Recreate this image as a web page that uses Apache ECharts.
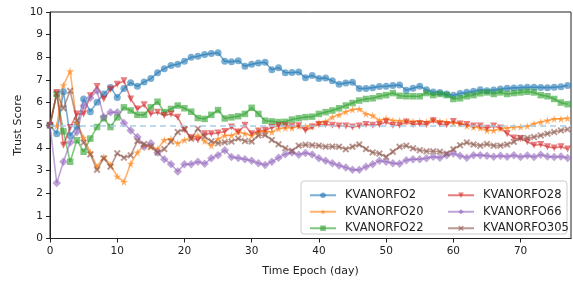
<!DOCTYPE html>
<html>
<head>
<meta charset="utf-8">
<script src="https://cdn.jsdelivr.net/npm/echarts@6/dist/echarts.min.js"></script>
<style>
html, body { margin: 0; padding: 0; background: #fff; }
#main { width: 573px; height: 282px; }
</style>
</head>
<body>
<div id="main"></div>
<script>
// time epochs (day)
var days = [0,1,2,3,4,5,6,7,8,9,10,11,12,13,14,15,16,17,18,19,20,21,22,23,24,25,26,27,28,29,
  30,31,32,33,34,35,36,37,38,39,40,41,42,43,44,45,46,47,48,49,50,51,52,53,54,55,56,57,58,59,
  60,61,62,63,64,65,66,67,68,69,70,71,72,73,74,75,76,77];

var kv2 = [5.0,4.63,6.48,4.54,4.95,6.16,5.6,6.02,6.38,6.67,6.23,6.62,6.88,6.72,6.91,7.06,7.32,7.5,7.64,7.69,
  7.83,8.0,8.05,8.12,8.17,8.2,7.83,7.8,7.85,7.61,7.69,7.75,7.78,7.45,7.54,7.32,7.33,7.35,7.1,7.2,
  7.06,7.09,6.96,6.81,6.87,6.9,6.62,6.62,6.66,6.71,6.72,6.75,6.78,6.55,6.63,6.72,6.57,6.47,6.45,6.38,
  6.32,6.4,6.46,6.5,6.57,6.52,6.56,6.6,6.63,6.65,6.66,6.68,6.68,6.67,6.66,6.68,6.7,6.76];
var kv20 = [5.0,4.97,6.77,7.39,5.1,4.45,3.8,3.17,3.6,3.25,2.74,2.5,3.3,3.8,4.1,4.05,3.95,4.35,4.4,4.2,
  4.35,4.45,4.55,4.3,4.1,4.4,4.55,4.55,4.7,4.63,4.55,4.7,4.73,4.7,4.85,4.88,4.88,4.96,4.96,4.95,
  5.11,5.17,5.36,5.46,5.6,5.69,5.72,5.5,5.43,5.21,5.3,5.21,5.2,5.17,5.17,5.17,5.14,5.25,5.17,5.15,
  5.11,5.07,4.97,4.92,4.88,4.77,4.77,4.85,4.88,4.92,4.93,4.96,5.07,5.14,5.21,5.28,5.28,5.31];
var kv22 = [5.0,6.38,4.73,3.39,4.34,3.83,4.41,4.92,5.31,4.92,5.35,5.79,5.65,5.46,5.46,5.79,6.04,5.58,5.72,5.87,
  5.75,5.6,5.32,5.28,5.46,5.67,5.3,5.35,5.4,5.5,5.77,5.5,5.2,5.17,5.14,5.15,5.25,5.31,5.36,5.38,
  5.5,5.58,5.65,5.75,5.87,5.98,6.09,6.16,6.19,6.28,6.33,6.42,6.3,6.28,6.28,6.28,6.42,6.33,6.38,6.33,
  6.16,6.19,6.28,6.33,6.41,6.45,6.38,6.45,6.38,6.42,6.45,6.48,6.45,6.33,6.28,6.16,6.0,5.93];
var kv28 = [5.0,6.45,4.12,4.9,5.5,5.5,6.3,6.71,6.16,6.59,6.81,6.96,6.16,5.72,5.9,5.5,5.57,5.43,5.5,5.35,
  4.8,4.45,4.35,4.63,4.63,4.66,4.72,4.92,4.7,5.0,4.63,4.75,4.78,4.9,4.98,4.98,4.96,4.98,4.77,4.92,
  5.03,5.03,5.0,4.97,4.97,4.92,4.97,5.03,5.0,5.03,5.14,5.0,5.0,5.14,5.03,5.07,5.03,5.2,5.05,5.02,
  5.17,5.05,5.03,4.97,4.97,4.87,4.97,4.88,4.63,4.44,4.41,4.27,4.12,4.15,4.05,4.0,4.05,3.95];
var kv66 = [5.0,2.45,3.39,4.24,4.7,5.86,6.2,6.52,5.36,5.57,5.57,5.1,4.77,4.48,4.05,4.2,3.8,3.5,3.28,2.96,
  3.28,3.28,3.39,3.3,3.54,3.68,3.9,3.6,3.55,3.5,3.43,3.32,3.25,3.39,3.57,3.72,3.8,3.7,3.78,3.71,
  3.54,3.43,3.32,3.22,3.13,3.03,3.03,3.17,3.28,3.43,3.39,3.32,3.3,3.46,3.5,3.5,3.54,3.61,3.57,3.68,
  3.75,3.65,3.57,3.68,3.68,3.65,3.61,3.65,3.61,3.68,3.6,3.66,3.6,3.7,3.62,3.6,3.62,3.55];
var kv305 = [5.0,6.4,5.75,6.52,5.21,4.24,3.71,3.03,3.54,3.17,3.76,3.57,3.67,4.3,4.17,4.05,3.8,3.95,4.28,4.7,
  4.83,4.41,4.85,4.5,4.29,4.2,4.25,4.28,4.41,4.3,4.28,4.55,4.57,4.35,4.16,3.98,3.87,4.1,4.14,4.12,
  4.1,4.05,4.06,4.05,3.94,4.05,4.15,3.95,3.8,3.75,3.6,3.83,4.05,4.1,3.98,3.9,3.85,3.85,3.83,3.75,
  3.94,4.12,4.24,4.15,4.1,4.17,4.1,4.1,4.15,4.27,4.44,4.44,4.48,4.55,4.63,4.7,4.77,4.82];

var xTicks = [0, 10, 20, 30, 40, 50, 60, 70];
var baseline = 5;

var FONT = 'DejaVu Sans';
var STAR = 'path://M50,0 L61,35 L98,35 L68,57 L79,91 L50,70 L21,91 L32,57 L2,35 L39,35 Z';
var XMARK = 'path://M2,0 L5,3 L8,0 L10,2 L7,5 L10,8 L8,10 L5,7 L2,10 L0,8 L3,5 L0,2 Z';

function pairs(vals) {
  return days.map(function (d, i) { return [d, vals[i]]; });
}

function mk(name, vals, color, symbol, size, rotate) {
  return {
    name: name,
    type: 'line',
    data: pairs(vals),
    symbol: symbol,
    symbolSize: size,
    symbolRotate: rotate || 0,
    showSymbol: true,
    lineStyle: { color: color, width: 1.6, opacity: 0.6 },
    itemStyle: { color: color, opacity: 0.6 },
    emphasis: { disabled: true }
  };
}

var series = [
  mk('KVANORFO2', kv2, '#1f77b4', 'circle', 7),
  mk('KVANORFO20', kv20, '#ff7f0e', STAR, 8),
  mk('KVANORFO22', kv22, '#2ca02c', 'rect', 6.5),
  mk('KVANORFO28', kv28, '#d62728', 'triangle', 7, 180),
  mk('KVANORFO66', kv66, '#9467bd', 'diamond', 8.5),
  mk('KVANORFO305', kv305, '#8c564b', XMARK, 7)
];
series[0].markLine = {
  silent: true,
  symbol: 'none',
  label: { show: false },
  lineStyle: { color: '#a9cbe6', type: [6, 4], width: 1.5, opacity: 1 },
  data: [{ yAxis: baseline }]
};

var legendBase = {
  orient: 'vertical',
  top: 182,
  itemWidth: 26,
  itemHeight: 7,
  itemGap: 0,
  selectedMode: false,
  z: 20,
  textStyle: { fontFamily: FONT, fontSize: 11.5, lineHeight: 16.5, color: '#222', padding: [0, 0, 0, 4] }
};

var chart = echarts.init(document.getElementById('main'));
chart.setOption({
  animation: false,
  backgroundColor: '#fff',
  grid: { left: 50, right: 2, top: 12, bottom: 41, show: true, borderColor: '#222', borderWidth: 1, backgroundColor: 'transparent' },
  xAxis: {
    type: 'value',
    min: 0,
    max: 77.5,
    name: 'Time Epoch (day)',
    nameLocation: 'middle',
    nameGap: 33,
    nameMoveOverlap: false,
    nameTextStyle: { fontFamily: FONT, fontSize: 11, color: '#222', verticalAlign: 'middle' },
    axisLine: { lineStyle: { color: '#222' } },
    axisTick: { length: 4, lineStyle: { color: '#222' }, customValues: xTicks },
    axisLabel: { fontFamily: FONT, fontSize: 10.5, color: '#222', margin: 7, customValues: xTicks },
    splitLine: { show: false }
  },
  yAxis: {
    type: 'value',
    min: 0,
    max: 10,
    interval: 1,
    name: 'Trust Score',
    nameLocation: 'middle',
    nameGap: 32,
    nameMoveOverlap: false,
    nameTextStyle: { fontFamily: FONT, fontSize: 11, color: '#222', verticalAlign: 'middle' },
    axisLine: { show: true, lineStyle: { color: '#222' } },
    axisTick: { show: true, length: 4, lineStyle: { color: '#222' } },
    axisLabel: { fontFamily: FONT, fontSize: 10.5, color: '#222', margin: 7 },
    splitLine: { show: false }
  },
  graphic: [{
    type: 'rect',
    z: 15,
    shape: { x: 301, y: 181, width: 266, height: 53, r: 3 },
    style: { fill: 'rgba(255,255,255,0.8)', stroke: '#cccccc', lineWidth: 1 }
  }],
  legend: [
    Object.assign({}, legendBase, { left: 304, data: ['KVANORFO2', 'KVANORFO20', 'KVANORFO22'] }),
    Object.assign({}, legendBase, { left: 442, data: ['KVANORFO28', 'KVANORFO66', 'KVANORFO305'] })
  ],
  series: series
});
</script>
</body>
</html>
